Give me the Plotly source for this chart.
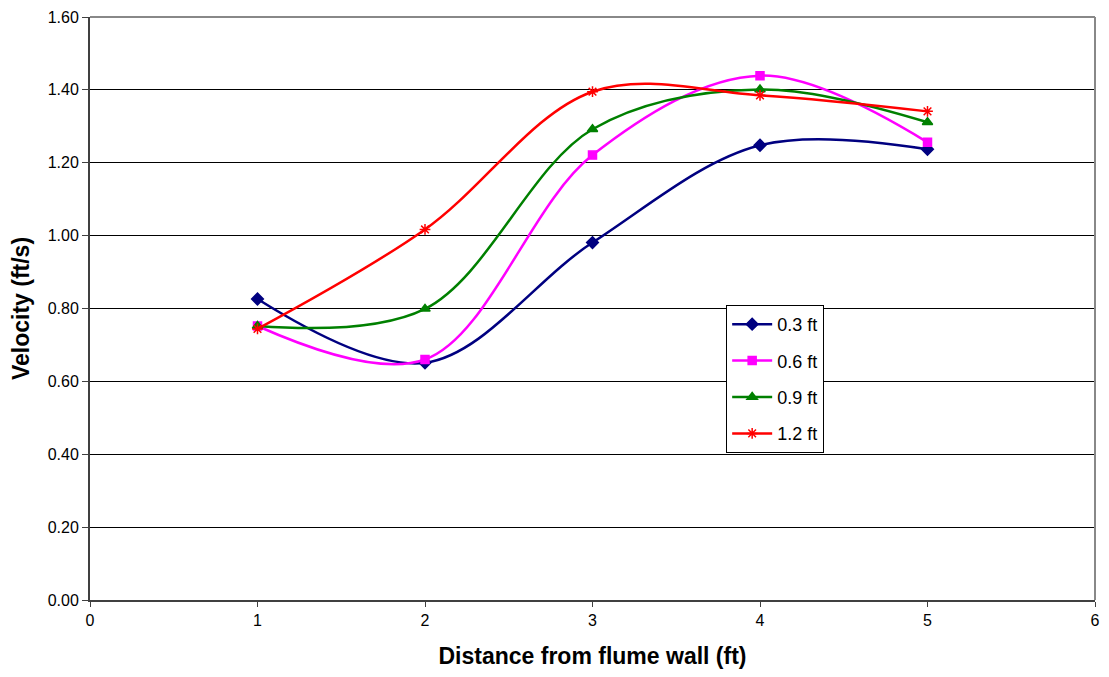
import plotly.graph_objects as go

distance = [1, 2, 3, 4, 5]
v_03 = [0.826, 0.651, 0.981, 1.248, 1.237]
v_06 = [0.752, 0.660, 1.221, 1.439, 1.256]
v_09 = [0.752, 0.799, 1.292, 1.401, 1.311]
v_12 = [0.744, 1.017, 1.395, 1.385, 1.341]

series = [
    ("0.3 ft", v_03, "#000080", "diamond", 9),
    ("0.6 ft", v_06, "#FF00FF", "square", 8),
    ("0.9 ft", v_09, "#008000", "triangle-up", 9),
    ("1.2 ft", v_12, "#FF0000", "asterisk-open", 9),
]

fig = go.Figure()
for name, vals, color, sym, size in series:
    fig.add_trace(go.Scatter(
        x=distance, y=vals, name=name, mode="lines+markers", legendgroup=name,
        line=dict(color=color, width=2.5, shape="spline", smoothing=1.0),
        marker=dict(symbol=sym, size=size, color=color,
                    line=dict(color=color, width=1.5)),
    ))

font = "Liberation Sans, Arial, sans-serif"
fig.update_layout(
    width=1109, height=677,
    margin=dict(l=90, r=9, t=13, b=77),
    paper_bgcolor="white", plot_bgcolor="white",
    font=dict(family=font, size=16, color="black"),
    showlegend=True,
    legend=dict(x=0.633, y=0.506, xanchor="left", yanchor="top",
                bordercolor="black", borderwidth=1, bgcolor="white",
                font=dict(size=18, family=font), tracegroupgap=10,
                itemwidth=40),
    xaxis=dict(range=[0, 6], tickmode="array", tickvals=[0, 1, 2, 3, 4, 5, 6],
               showgrid=False, zeroline=False, showline=True,
               linecolor="#404040", linewidth=2, ticks="outside", ticklen=5,
               tickcolor="#404040", tickfont=dict(size=16),
               title=dict(text="<b>Distance from flume wall (ft)</b>",
                          font=dict(size=23, family=font), standoff=20)),
    yaxis=dict(range=[0, 1.6], tickmode="array",
               tickvals=[0, 0.2, 0.4, 0.6, 0.8, 1.0, 1.2, 1.4, 1.6],
               tickformat=".2f", showgrid=True, gridcolor="black", gridwidth=1,
               zeroline=False, showline=True, linecolor="#404040", linewidth=2,
               ticks="outside", ticklen=6, tickcolor="#404040",
               tickfont=dict(size=16),
               title=dict(text="<b>Velocity (ft/s)</b>",
                          font=dict(size=23, family=font), standoff=12)),
    shapes=[
        dict(type="line", xref="x domain", yref="y domain", x0=0, x1=1, y0=1, y1=1,
             line=dict(color="#888888", width=2)),
        dict(type="line", xref="x domain", yref="y domain", x0=1, x1=1, y0=0, y1=1,
             line=dict(color="#888888", width=2)),
    ],
)

fig.write_html("out.html")
